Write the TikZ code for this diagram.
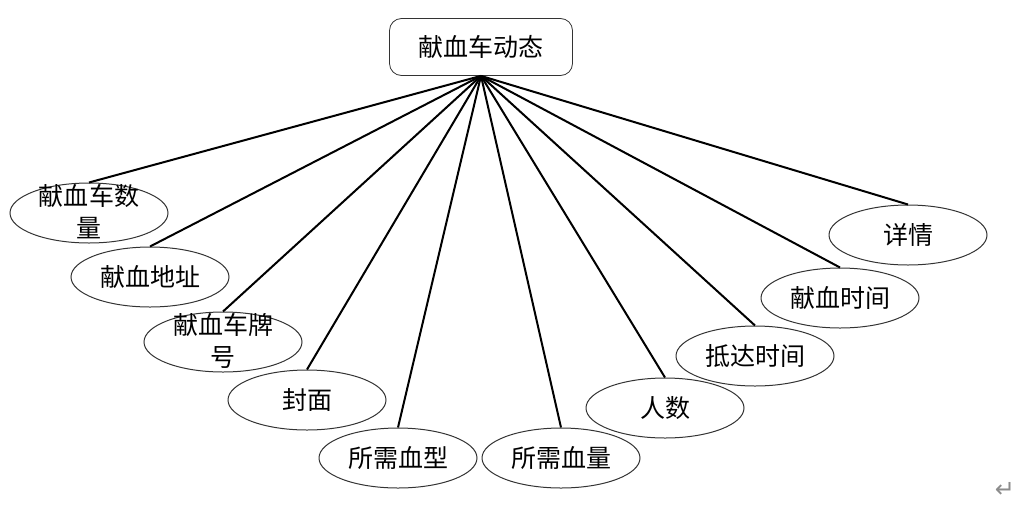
\documentclass[tikz,border=0pt]{standalone}
\usepackage{fontspec}
\setmainfont{Noto Sans CJK SC}
\newfontfamily\symfont{DejaVu Sans}
\usepackage{tikz}
\usetikzlibrary{shapes.geometric}

\begin{document}
\begin{tikzpicture}[x=0.5pt, y=-0.5pt,
	root/.style={draw=black!80, rounded corners=6pt, minimum width=91.5pt, minimum height=28.5pt, inner sep=0pt, font=\fontsize{12.5}{15}\selectfont},
	attr/.style={draw=black!80, ellipse, line width=0.5pt, inner sep=0pt, minimum width=79pt, minimum height=30pt, font=\fontsize{12.5}{15}\selectfont},
	link/.style={black, line width=1pt}]
	\useasboundingbox (0, 0) rectangle (1032, 509);

	\node[root] (dyn) at (481, 47) {献血车动态};

	% attributes, left to right
	\node[attr] (count) at (89, 213) {\smash{\raisebox{-4pt}{\begin{tabular}{@{}c@{}}献血车数\\[1pt]量\end{tabular}}}};
	\node[attr] (addr) at (150, 277) {献血地址};
	\node[attr] (plate) at (223, 342) {\smash{\raisebox{-4pt}{\begin{tabular}{@{}c@{}}献血车牌\\[1pt]号\end{tabular}}}};
	\node[attr] (cover) at (307, 400) {封面};
	\node[attr] (btype) at (398, 458) {所需血型};
	\node[attr] (amount) at (561, 458) {所需血量};
	\node[attr] (people) at (665, 408) {人数};
	\node[attr] (arrive) at (755, 356) {抵达时间};
	\node[attr] (dtime) at (840, 298) {献血时间};
	\node[attr] (detail) at (908, 235) {详情};

	\draw[link] (dyn.south) -- (count.north);
	\draw[link] (dyn.south) -- (addr.north);
	\draw[link] (dyn.south) -- (plate.north);
	\draw[link] (dyn.south) -- (cover.north);
	\draw[link] (dyn.south) -- (btype.north);
	\draw[link] (dyn.south) -- (amount.north);
	\draw[link] (dyn.south) -- (people.north);
	\draw[link] (dyn.south) -- (arrive.north);
	\draw[link] (dyn.south) -- (dtime.north);
	\draw[link] (dyn.south) -- (detail.north);

	\node[text=black!45, font=\symfont\fontsize{12}{13}\selectfont] (mark) at (1005, 490) {↵};

\end{tikzpicture}
\end{document}
